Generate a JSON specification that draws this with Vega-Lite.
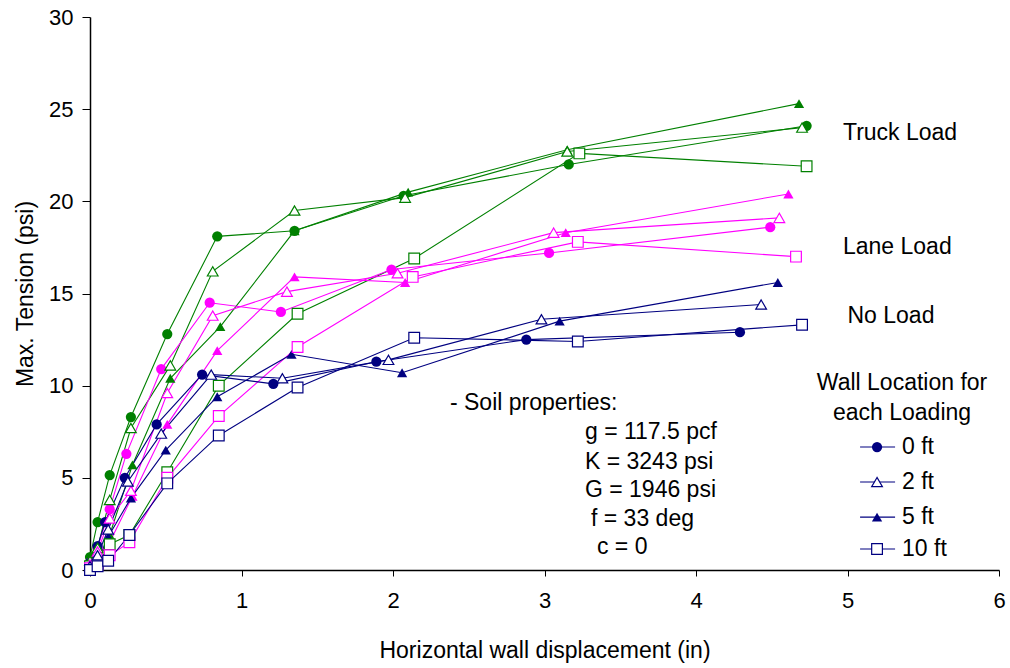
{
  "$schema": "https://vega.github.io/schema/vega-lite/v6.json",
  "autosize": {"type": "none"},
  "width": 909,
  "height": 553,
  "padding": {"left": 90, "top": 17, "right": 11, "bottom": 98},
  "background": "white",
  "config": {
    "font": "Liberation Sans",
    "view": {"stroke": null},
    "axis": {"domainColor": "black", "tickColor": "black", "labelColor": "black", "titleColor": "black", "grid": false, "labelFontSize": 22, "titleFontSize": 23, "titleFontWeight": "normal", "labelFont": "Liberation Sans", "titleFont": "Liberation Sans"}
  },
  "datasets": {
    "series": [
      {"load": "Truck Load", "wall": "0 ft", "x": 0.0, "y": 0.7},
      {"load": "Truck Load", "wall": "0 ft", "x": 0.05, "y": 2.6},
      {"load": "Truck Load", "wall": "0 ft", "x": 0.13, "y": 5.15},
      {"load": "Truck Load", "wall": "0 ft", "x": 0.27, "y": 8.3},
      {"load": "Truck Load", "wall": "0 ft", "x": 0.51, "y": 12.8},
      {"load": "Truck Load", "wall": "0 ft", "x": 0.84, "y": 18.1},
      {"load": "Truck Load", "wall": "0 ft", "x": 1.35, "y": 18.4},
      {"load": "Truck Load", "wall": "0 ft", "x": 2.07, "y": 20.3},
      {"load": "Truck Load", "wall": "0 ft", "x": 3.16, "y": 22.0},
      {"load": "Truck Load", "wall": "0 ft", "x": 4.73, "y": 24.1},
      {"load": "Truck Load", "wall": "2 ft", "x": 0.0, "y": 0.5},
      {"load": "Truck Load", "wall": "2 ft", "x": 0.05, "y": 1.2},
      {"load": "Truck Load", "wall": "2 ft", "x": 0.13, "y": 3.8},
      {"load": "Truck Load", "wall": "2 ft", "x": 0.27, "y": 7.7},
      {"load": "Truck Load", "wall": "2 ft", "x": 0.53, "y": 11.1},
      {"load": "Truck Load", "wall": "2 ft", "x": 0.81, "y": 16.2},
      {"load": "Truck Load", "wall": "2 ft", "x": 1.35, "y": 19.5},
      {"load": "Truck Load", "wall": "2 ft", "x": 2.08, "y": 20.2},
      {"load": "Truck Load", "wall": "2 ft", "x": 3.15, "y": 22.7},
      {"load": "Truck Load", "wall": "2 ft", "x": 4.7, "y": 24.0},
      {"load": "Truck Load", "wall": "5 ft", "x": 0.0, "y": 0.3},
      {"load": "Truck Load", "wall": "5 ft", "x": 0.05, "y": 0.3},
      {"load": "Truck Load", "wall": "5 ft", "x": 0.13, "y": 1.9},
      {"load": "Truck Load", "wall": "5 ft", "x": 0.28, "y": 5.7},
      {"load": "Truck Load", "wall": "5 ft", "x": 0.53, "y": 10.4},
      {"load": "Truck Load", "wall": "5 ft", "x": 0.86, "y": 13.2},
      {"load": "Truck Load", "wall": "5 ft", "x": 1.35, "y": 18.4},
      {"load": "Truck Load", "wall": "5 ft", "x": 2.1, "y": 20.5},
      {"load": "Truck Load", "wall": "5 ft", "x": 3.15, "y": 22.8},
      {"load": "Truck Load", "wall": "5 ft", "x": 4.68, "y": 25.3},
      {"load": "Truck Load", "wall": "10 ft", "x": 0.0, "y": 0.2},
      {"load": "Truck Load", "wall": "10 ft", "x": 0.05, "y": 0.3},
      {"load": "Truck Load", "wall": "10 ft", "x": 0.13, "y": 1.4},
      {"load": "Truck Load", "wall": "10 ft", "x": 0.26, "y": 1.9},
      {"load": "Truck Load", "wall": "10 ft", "x": 0.51, "y": 5.3},
      {"load": "Truck Load", "wall": "10 ft", "x": 0.85, "y": 10.0},
      {"load": "Truck Load", "wall": "10 ft", "x": 1.37, "y": 13.9},
      {"load": "Truck Load", "wall": "10 ft", "x": 2.14, "y": 16.9},
      {"load": "Truck Load", "wall": "10 ft", "x": 3.23, "y": 22.6},
      {"load": "Truck Load", "wall": "10 ft", "x": 4.73, "y": 21.9},
      {"load": "Lane Load", "wall": "0 ft", "x": 0.0, "y": 0.4},
      {"load": "Lane Load", "wall": "0 ft", "x": 0.05, "y": 1.2},
      {"load": "Lane Load", "wall": "0 ft", "x": 0.13, "y": 3.3},
      {"load": "Lane Load", "wall": "0 ft", "x": 0.24, "y": 6.3},
      {"load": "Lane Load", "wall": "0 ft", "x": 0.47, "y": 10.9},
      {"load": "Lane Load", "wall": "0 ft", "x": 0.79, "y": 14.5},
      {"load": "Lane Load", "wall": "0 ft", "x": 1.26, "y": 14.0},
      {"load": "Lane Load", "wall": "0 ft", "x": 1.99, "y": 16.3},
      {"load": "Lane Load", "wall": "0 ft", "x": 3.03, "y": 17.2},
      {"load": "Lane Load", "wall": "0 ft", "x": 4.49, "y": 18.6},
      {"load": "Lane Load", "wall": "2 ft", "x": 0.0, "y": 0.3},
      {"load": "Lane Load", "wall": "2 ft", "x": 0.05, "y": 1.0},
      {"load": "Lane Load", "wall": "2 ft", "x": 0.13, "y": 2.8},
      {"load": "Lane Load", "wall": "2 ft", "x": 0.27, "y": 4.3},
      {"load": "Lane Load", "wall": "2 ft", "x": 0.51, "y": 9.6},
      {"load": "Lane Load", "wall": "2 ft", "x": 0.81, "y": 13.8},
      {"load": "Lane Load", "wall": "2 ft", "x": 1.3, "y": 15.1},
      {"load": "Lane Load", "wall": "2 ft", "x": 2.03, "y": 16.1},
      {"load": "Lane Load", "wall": "2 ft", "x": 3.06, "y": 18.3},
      {"load": "Lane Load", "wall": "2 ft", "x": 4.55, "y": 19.1},
      {"load": "Lane Load", "wall": "5 ft", "x": 0.0, "y": 0.2},
      {"load": "Lane Load", "wall": "5 ft", "x": 0.05, "y": 0.8},
      {"load": "Lane Load", "wall": "5 ft", "x": 0.13, "y": 1.5},
      {"load": "Lane Load", "wall": "5 ft", "x": 0.28, "y": 4.0},
      {"load": "Lane Load", "wall": "5 ft", "x": 0.51, "y": 7.9},
      {"load": "Lane Load", "wall": "5 ft", "x": 0.84, "y": 11.9},
      {"load": "Lane Load", "wall": "5 ft", "x": 1.35, "y": 15.9},
      {"load": "Lane Load", "wall": "5 ft", "x": 2.08, "y": 15.6},
      {"load": "Lane Load", "wall": "5 ft", "x": 3.14, "y": 18.3},
      {"load": "Lane Load", "wall": "5 ft", "x": 4.61, "y": 20.4},
      {"load": "Lane Load", "wall": "10 ft", "x": 0.0, "y": 0.1},
      {"load": "Lane Load", "wall": "10 ft", "x": 0.05, "y": 0.3},
      {"load": "Lane Load", "wall": "10 ft", "x": 0.13, "y": 0.8},
      {"load": "Lane Load", "wall": "10 ft", "x": 0.26, "y": 1.5},
      {"load": "Lane Load", "wall": "10 ft", "x": 0.51, "y": 5.0},
      {"load": "Lane Load", "wall": "10 ft", "x": 0.85, "y": 8.35},
      {"load": "Lane Load", "wall": "10 ft", "x": 1.37, "y": 12.1},
      {"load": "Lane Load", "wall": "10 ft", "x": 2.13, "y": 15.9},
      {"load": "Lane Load", "wall": "10 ft", "x": 3.22, "y": 17.8},
      {"load": "Lane Load", "wall": "10 ft", "x": 4.66, "y": 17.0},
      {"load": "No Load", "wall": "0 ft", "x": 0.0, "y": 0.4},
      {"load": "No Load", "wall": "0 ft", "x": 0.05, "y": 1.3},
      {"load": "No Load", "wall": "0 ft", "x": 0.1, "y": 2.6},
      {"load": "No Load", "wall": "0 ft", "x": 0.23, "y": 5.0},
      {"load": "No Load", "wall": "0 ft", "x": 0.44, "y": 7.9},
      {"load": "No Load", "wall": "0 ft", "x": 0.74, "y": 10.6},
      {"load": "No Load", "wall": "0 ft", "x": 1.21, "y": 10.1},
      {"load": "No Load", "wall": "0 ft", "x": 1.89, "y": 11.3},
      {"load": "No Load", "wall": "0 ft", "x": 2.88, "y": 12.5},
      {"load": "No Load", "wall": "0 ft", "x": 4.29, "y": 12.9},
      {"load": "No Load", "wall": "2 ft", "x": 0.0, "y": 0.2},
      {"load": "No Load", "wall": "2 ft", "x": 0.05, "y": 0.8},
      {"load": "No Load", "wall": "2 ft", "x": 0.12, "y": 2.2},
      {"load": "No Load", "wall": "2 ft", "x": 0.25, "y": 4.8},
      {"load": "No Load", "wall": "2 ft", "x": 0.47, "y": 7.4},
      {"load": "No Load", "wall": "2 ft", "x": 0.8, "y": 10.6},
      {"load": "No Load", "wall": "2 ft", "x": 1.27, "y": 10.4},
      {"load": "No Load", "wall": "2 ft", "x": 1.97, "y": 11.4},
      {"load": "No Load", "wall": "2 ft", "x": 2.98, "y": 13.6},
      {"load": "No Load", "wall": "2 ft", "x": 4.43, "y": 14.4},
      {"load": "No Load", "wall": "5 ft", "x": 0.0, "y": 0.1},
      {"load": "No Load", "wall": "5 ft", "x": 0.05, "y": 0.5},
      {"load": "No Load", "wall": "5 ft", "x": 0.12, "y": 1.8},
      {"load": "No Load", "wall": "5 ft", "x": 0.27, "y": 3.9},
      {"load": "No Load", "wall": "5 ft", "x": 0.5, "y": 6.5},
      {"load": "No Load", "wall": "5 ft", "x": 0.84, "y": 9.4},
      {"load": "No Load", "wall": "5 ft", "x": 1.33, "y": 11.7},
      {"load": "No Load", "wall": "5 ft", "x": 2.06, "y": 10.7},
      {"load": "No Load", "wall": "5 ft", "x": 3.1, "y": 13.5},
      {"load": "No Load", "wall": "5 ft", "x": 4.54, "y": 15.6},
      {"load": "No Load", "wall": "10 ft", "x": 0.0, "y": 0.0},
      {"load": "No Load", "wall": "10 ft", "x": 0.05, "y": 0.2},
      {"load": "No Load", "wall": "10 ft", "x": 0.12, "y": 0.5},
      {"load": "No Load", "wall": "10 ft", "x": 0.26, "y": 1.9},
      {"load": "No Load", "wall": "10 ft", "x": 0.51, "y": 4.7},
      {"load": "No Load", "wall": "10 ft", "x": 0.85, "y": 7.3},
      {"load": "No Load", "wall": "10 ft", "x": 1.37, "y": 9.9},
      {"load": "No Load", "wall": "10 ft", "x": 2.14, "y": 12.6},
      {"load": "No Load", "wall": "10 ft", "x": 3.22, "y": 12.4},
      {"load": "No Load", "wall": "10 ft", "x": 4.7, "y": 13.3}
    ],
    "notes": [
      {"text": "Truck Load", "x": 4.97, "y": 23.7},
      {"text": "Lane Load", "x": 4.97, "y": 17.5},
      {"text": "No Load", "x": 5.0, "y": 13.8},
      {"text": "- Soil properties:", "x": 2.376, "y": 9.05},
      {"text": "g = 117.5 pcf", "x": 3.267, "y": 7.48},
      {"text": "K = 3243 psi", "x": 3.267, "y": 5.85},
      {"text": "G = 1946 psi", "x": 3.267, "y": 4.34},
      {"text": "f = 33 deg", "x": 3.307, "y": 2.76},
      {"text": "c = 0", "x": 3.346, "y": 1.25}
    ],
    "legendTitle": [
      {"text": "Wall Location for", "x": 5.36, "y": 10.14},
      {"text": "each Loading", "x": 5.36, "y": 8.51}
    ],
    "legendItems": [
      {"wall": "0 ft", "x1": 5.083, "x2": 5.314, "xs": 5.195, "xt": 5.36, "y": 6.67},
      {"wall": "2 ft", "x1": 5.083, "x2": 5.314, "xs": 5.195, "xt": 5.36, "y": 4.77},
      {"wall": "5 ft", "x1": 5.083, "x2": 5.314, "xs": 5.195, "xt": 5.36, "y": 2.87},
      {"wall": "10 ft", "x1": 5.083, "x2": 5.314, "xs": 5.195, "xt": 5.36, "y": 1.14}
    ]
  },
  "layer": [
    {
      "data": {"name": "series"},
      "mark": {"type": "line", "strokeWidth": 1.1, "clip": false},
      "encoding": {
        "x": {"field": "x", "type": "quantitative", "scale": {"domain": [0, 6], "nice": false, "zero": false}, "axis": {"values": [0, 1, 2, 3, 4, 5, 6], "format": "d", "title": "Horizontal wall displacement (in)", "tickSize": 6, "labelPadding": 14, "titlePadding": 28, "domainWidth": 1.5, "labelFlush": false}},
        "y": {"field": "y", "type": "quantitative", "scale": {"domain": [0, 30], "nice": false}, "axis": {"values": [0, 5, 10, 15, 20, 25, 30], "format": "d", "title": "Max. Tension (psi)", "tickSize": 8, "labelPadding": 9, "titlePadding": 11, "domainWidth": 1.5, "labelFlush": false}},
        "color": {"field": "load", "type": "nominal", "scale": {"domain": ["Truck Load", "Lane Load", "No Load"], "range": ["#008000", "#FF00FF", "#000080"]}, "legend": null},
        "detail": {"field": "wall", "type": "nominal"},
        "order": {"field": "x", "type": "quantitative"}
      }
    },
    {
      "data": {"name": "series"},
      "transform": [{"filter": "datum.wall === '0 ft' || datum.wall === '5 ft'"}],
      "mark": {"type": "point", "filled": true, "opacity": 1, "size": 105, "clip": false},
      "encoding": {
        "x": {"field": "x", "type": "quantitative"},
        "y": {"field": "y", "type": "quantitative"},
        "color": {"field": "load", "type": "nominal", "legend": null},
        "shape": {"field": "wall", "type": "nominal", "scale": {"domain": ["0 ft", "2 ft", "5 ft", "10 ft"], "range": ["circle", "triangle-up", "triangle-up", "square"]}, "legend": null}
      }
    },
    {
      "data": {"name": "series"},
      "transform": [{"filter": "datum.wall === '2 ft' || datum.wall === '10 ft'"}],
      "mark": {"type": "point", "filled": false, "fill": "white", "fillOpacity": 1, "opacity": 1, "strokeWidth": 1.2, "size": 115, "clip": false},
      "encoding": {
        "x": {"field": "x", "type": "quantitative"},
        "y": {"field": "y", "type": "quantitative"},
        "color": {"field": "load", "type": "nominal", "legend": null},
        "shape": {"field": "wall", "type": "nominal", "legend": null}
      }
    },
    {
      "data": {"name": "notes"},
      "mark": {"type": "text", "align": "left", "baseline": "middle", "fontSize": 23, "font": "Liberation Sans", "color": "black"},
      "encoding": {
        "x": {"field": "x", "type": "quantitative"},
        "y": {"field": "y", "type": "quantitative"},
        "text": {"field": "text", "type": "nominal"}
      }
    },
    {
      "data": {"name": "legendTitle"},
      "mark": {"type": "text", "align": "center", "baseline": "middle", "fontSize": 23, "font": "Liberation Sans", "color": "black"},
      "encoding": {
        "x": {"field": "x", "type": "quantitative"},
        "y": {"field": "y", "type": "quantitative"},
        "text": {"field": "text", "type": "nominal"}
      }
    },
    {
      "data": {"name": "legendItems"},
      "mark": {"type": "rule", "color": "#000080", "strokeWidth": 1.1},
      "encoding": {
        "x": {"field": "x1", "type": "quantitative"},
        "x2": {"field": "x2"},
        "y": {"field": "y", "type": "quantitative"}
      }
    },
    {
      "data": {"name": "legendItems"},
      "transform": [{"filter": "datum.wall === '0 ft' || datum.wall === '5 ft'"}],
      "mark": {"type": "point", "filled": true, "opacity": 1, "size": 105, "color": "#000080"},
      "encoding": {
        "x": {"field": "xs", "type": "quantitative"},
        "y": {"field": "y", "type": "quantitative"},
        "shape": {"field": "wall", "type": "nominal", "legend": null}
      }
    },
    {
      "data": {"name": "legendItems"},
      "transform": [{"filter": "datum.wall === '2 ft' || datum.wall === '10 ft'"}],
      "mark": {"type": "point", "filled": false, "fill": "white", "fillOpacity": 1, "opacity": 1, "strokeWidth": 1.2, "size": 115, "color": "#000080"},
      "encoding": {
        "x": {"field": "xs", "type": "quantitative"},
        "y": {"field": "y", "type": "quantitative"},
        "shape": {"field": "wall", "type": "nominal", "legend": null}
      }
    },
    {
      "data": {"name": "legendItems"},
      "mark": {"type": "text", "align": "left", "baseline": "middle", "fontSize": 23, "font": "Liberation Sans", "color": "black"},
      "encoding": {
        "x": {"field": "xt", "type": "quantitative"},
        "y": {"field": "y", "type": "quantitative"},
        "text": {"field": "wall", "type": "nominal"}
      }
    }
  ]
}
